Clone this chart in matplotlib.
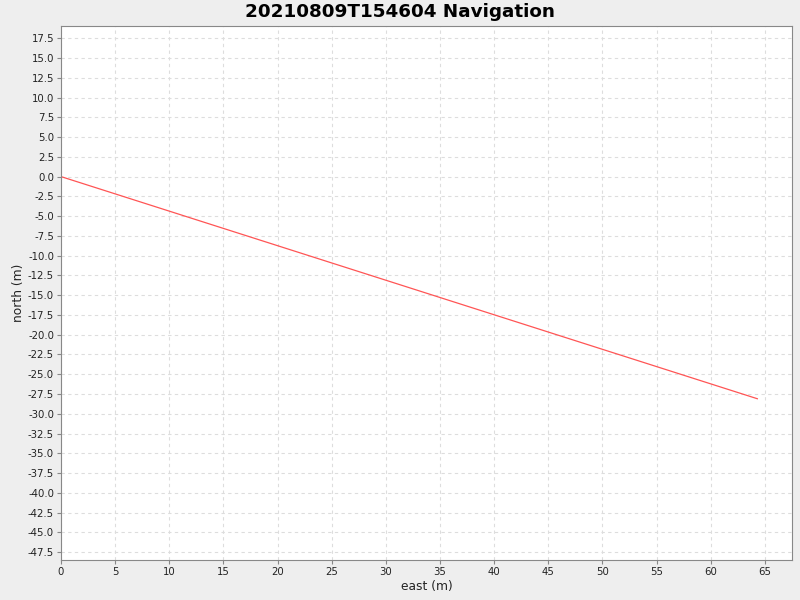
import matplotlib
matplotlib.use("Agg")
import matplotlib.pyplot as plt
import numpy as np

# track data (east/north in metres)
east = [0.0, 64.3]
north = [0.0, -28.1]

x_ticks = np.arange(0, 66, 5)
y_ticks = np.arange(-47.5, 18, 2.5)

fig = plt.figure(figsize=(8, 6), dpi=100, facecolor="#eeeeee")
ax = fig.add_axes([61 / 800, 40 / 600, 731 / 800, 534 / 600])
ax.set_facecolor("white")

ax.plot(east, north, color="#ff5555", linewidth=0.9)

ax.set_xlim(0, 67.5)
ax.set_ylim(-48.5, 19.05)
ax.set_xticks(x_ticks)
ax.set_yticks(y_ticks)
ax.set_xticklabels([str(int(v)) for v in x_ticks])
ax.set_yticklabels([f"{v:.1f}" for v in y_ticks])

ax.grid(True, color="#dddddd", linestyle=(0, (3, 3)), linewidth=0.8)
ax.set_axisbelow(True)
for side in ["top", "right", "left", "bottom"]:
    ax.spines[side].set_color("#888888")
ax.tick_params(direction="out", length=3, width=0.8, color="#888888",
               labelsize=7.3, labelcolor="#222222", pad=2)

ax.set_xlabel("east (m)", fontsize=8.8, labelpad=2, color="#222222")
ax.set_ylabel("north (m)", fontsize=8.8, labelpad=2, color="#222222")
fig.suptitle("20210809T154604 Navigation", fontsize=13.2, fontweight="bold",
             y=0.995, va="top")

fig.savefig("out.png", dpi=100, facecolor=fig.get_facecolor())
